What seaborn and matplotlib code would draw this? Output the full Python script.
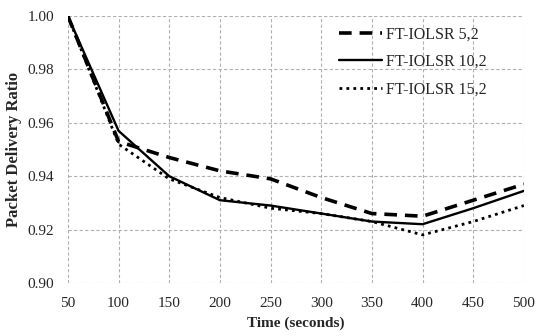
import pandas as pd
import seaborn as sns
import matplotlib
matplotlib.use("Agg")
import matplotlib.pyplot as plt

# values
time_s = [50, 100, 150, 200, 250, 300, 350, 400, 450, 500]
pdr_5_2 = [1.000, 0.953, 0.947, 0.942, 0.939, 0.932, 0.926, 0.925, 0.931, 0.937]
pdr_10_2 = [1.000, 0.957, 0.940, 0.931, 0.929, 0.926, 0.923, 0.922, 0.928, 0.9345]
pdr_15_2 = [1.000, 0.952, 0.939, 0.932, 0.928, 0.926, 0.923, 0.918, 0.923, 0.929]
series_names = ["FT-IOLSR 5,2", "FT-IOLSR 10,2", "FT-IOLSR 15,2"]

frames = []
for name, vals in zip(series_names, [pdr_5_2, pdr_10_2, pdr_15_2]):
    frames.append(pd.DataFrame({"Time": time_s, "PDR": vals, "Scheme": name}))
df = pd.concat(frames, ignore_index=True)

sns.set_style("white")
plt.rcParams['font.family'] = ['Liberation Serif', 'DejaVu Serif']

fig = plt.figure(figsize=(5.39, 3.36), dpi=100)
ax = fig.add_axes([0.126, 0.158, 0.846, 0.794])

styles = {"FT-IOLSR 5,2": (3.5, 2.2), "FT-IOLSR 10,2": "", "FT-IOLSR 15,2": (1, 1.5)}
widths = [2.6, 1.7, 2.0]
sns.lineplot(data=df, x="Time", y="PDR", hue="Scheme", style="Scheme",
             palette=["black"] * 3, dashes=styles, ax=ax)
for line, lw in zip(ax.get_lines()[:3], widths):
    line.set_linewidth(lw)

ax.set_xlim(50, 500)
ax.set_ylim(0.90, 1.00)
ax.set_xticks(range(50, 501, 50))
yt = [0.90, 0.92, 0.94, 0.96, 0.98, 1.00]
ax.set_yticks(yt)
ax.set_yticklabels([f"{v:.2f}" for v in yt])
ax.grid(True, color="#b0b0b0", linestyle=(0, (3, 2)), linewidth=0.8)
for s in ax.spines.values():
    s.set_visible(False)
ax.tick_params(axis="both", labelsize=11, length=0)
ax.tick_params(axis="y", pad=10)
ax.tick_params(axis="x", pad=10)
ax.set_xlabel("Time (seconds)", fontsize=11, fontweight="bold", labelpad=5)
ax.set_ylabel("Packet Delivery Ratio", fontsize=12, fontweight="bold", labelpad=4)

leg = ax.legend(frameon=False, fontsize=11.5, loc="upper left",
                bbox_to_anchor=(0.595, 0.962), borderpad=0, borderaxespad=0,
                handlelength=2.7, handletextpad=0.25, labelspacing=0.72)
for h, lw in zip(leg.get_lines(), widths):
    h.set_linewidth(lw)

fig.savefig("out.png", dpi=100)
